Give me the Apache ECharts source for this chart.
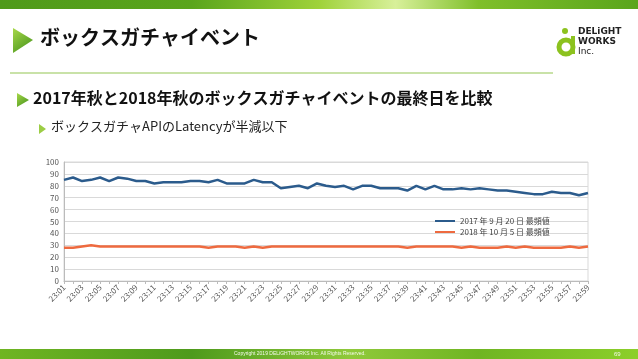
<!DOCTYPE html>
<html><head><meta charset="utf-8">
<script src="https://cdn.jsdelivr.net/npm/echarts@6/dist/echarts.min.js"></script>
<style>html,body{margin:0;padding:0;background:#fff}#c{width:638px;height:359px}</style>
</head><body><div id="c"></div>
<script>
const categories = ["23:01","23:02","23:03","23:04","23:05","23:06","23:07","23:08","23:09","23:10",
"23:11","23:12","23:13","23:14","23:15","23:16","23:17","23:18","23:19","23:20",
"23:21","23:22","23:23","23:24","23:25","23:26","23:27","23:28","23:29","23:30",
"23:31","23:32","23:33","23:34","23:35","23:36","23:37","23:38","23:39","23:40",
"23:41","23:42","23:43","23:44","23:45","23:46","23:47","23:48","23:49","23:50",
"23:51","23:52","23:53","23:54","23:55","23:56","23:57","23:58","23:59"];
const series2017Name = "2017 年 9 月 20 日 最頻値";
const series2018Name = "2018 年 10 月 5 日 最頻値";
const values2017 = [85,87,84,85,87,84,87,86,84,84,82,83,83,83,84,84,83,85,82,82,
82,85,83,83,78,79,80,78,82,80,79,80,77,80,80,78,78,78,76,80,
77,80,77,77,78,77,78,77,76,76,75,74,73,73,75,74,74,72,74];
const values2018 = [28,28,29,30,29,29,29,29,29,29,29,29,29,29,29,29,28,29,29,29,
28,29,28,29,29,29,29,29,29,29,29,29,29,29,29,29,29,29,28,29,
29,29,29,29,28,29,28,28,28,29,28,29,28,28,28,28,29,28,29];
const yTicks = {min:0, max:100, interval:10};

const chart = echarts.init(document.getElementById('c'));
const jp = '"Noto Sans CJK JP", "Noto Sans", sans-serif';
const bannerGrad = new echarts.graphic.LinearGradient(0,0,1,0,[
  {offset:0,color:'#4f9a1a'},{offset:0.3,color:'#5aa51c'},{offset:0.5,color:'#9fd23a'},
  {offset:0.62,color:'#d8f09a'},{offset:0.75,color:'#7fbf2a'},{offset:1,color:'#5aa51c'}]);
const footGrad = new echarts.graphic.LinearGradient(0,0,1,0,[
  {offset:0,color:'#6fb522'},{offset:0.3,color:'#4e9a1c'},{offset:0.55,color:'#8fc93a'},
  {offset:0.75,color:'#6fb522'},{offset:1,color:'#8ccf2a'}]);
const triGrad = new echarts.graphic.LinearGradient(0,0,1,1,[
  {offset:0,color:'#a8d84a'},{offset:1,color:'#3f8f18'}]);

chart.setOption({
  animation:false,
  textStyle:{fontFamily:jp},
  graphic:[
    {type:'rect',shape:{x:0,y:0,width:638,height:9},style:{fill:bannerGrad},silent:true},
    {type:'rect',shape:{x:0,y:349,width:638,height:10},style:{fill:footGrad},silent:true},
    {type:'polygon',shape:{points:[[13,28],[33,40],[13,53]]},style:{fill:triGrad}},
    {type:'text',left:40,top:27,style:{text:'ボックスガチャイベント',font:'bold 20px "Noto Sans CJK JP"',fill:'#111'}},
    {type:'rect',shape:{x:10,y:72,width:543,height:2},style:{fill:'#c9e2a8'}},
    {type:'polygon',shape:{points:[[17,93],[29,100],[17,107]]},style:{fill:triGrad}},
    {type:'text',left:33,top:90,style:{text:'2017年秋と2018年秋のボックスガチャイベントの最終日を比較',font:'bold 16px "Noto Sans CJK JP"',fill:'#111'}},
    {type:'polygon',shape:{points:[[39,124],[46,129],[39,134]]},style:{fill:'#9ccd45'}},
    {type:'text',left:51,top:120,style:{text:'ボックスガチャAPIのLatencyが半減以下',font:'13px "Noto Sans CJK JP"',fill:'#222'}},
    // logo
    {type:'circle',shape:{cx:566,cy:47,r:7},style:{fill:'none',stroke:'#8cc21f',lineWidth:5}},
    {type:'circle',shape:{cx:565,cy:31,r:3},style:{fill:'#8cc21f'}},
    {type:'rect',shape:{x:571,y:36,width:4,height:18},style:{fill:'#8cc21f'}},
    {type:'text',left:578,top:27,style:{text:'DELiGHT',font:'bold 9px "DejaVu Sans"',fill:'#222'}},
    {type:'text',left:578,top:37,style:{text:'WORKS',font:'bold 9px "DejaVu Sans"',fill:'#222'}},
    {type:'text',left:578,top:47,style:{text:'Inc.',font:'9px "DejaVu Sans"',fill:'#222'}},
    {type:'text',left:234,top:351,style:{text:'Copyright 2019 DELiGHTWORKS Inc. All Rights Reserved.',font:'5px "Liberation Sans"',fill:'#f4f9ea'}},
    {type:'text',left:614,top:351,style:{text:'69',font:'6px "Liberation Sans"',fill:'#f4f9ea'}}
  ],
  legend:{
    orient:'vertical',left:430,top:212,itemGap:3,itemWidth:20,itemHeight:2,
    icon:'rect',
    textStyle:{fontSize:8,color:'#444'},
    data:[series2017Name,series2018Name]
  },
  grid:{left:64,right:50,top:162,bottom:78,show:true,borderColor:'#d9d9d9',borderWidth:1},
  xAxis:{
    type:'category',data:categories,boundaryGap:false,
    axisLine:{lineStyle:{color:'#bbb'}},
    axisTick:{show:true,interval:0,length:3,lineStyle:{color:'#bbb'}},
    axisLabel:{interval:1,rotate:45,fontSize:8,color:'#555',margin:5},
    splitLine:{show:false}
  },
  yAxis:{
    type:'value',min:yTicks.min,max:yTicks.max,interval:yTicks.interval,
    axisLine:{show:true,lineStyle:{color:'#bbb'}},
    axisTick:{show:false},
    axisLabel:{fontSize:8,color:'#555',margin:5},
    splitLine:{lineStyle:{color:'#d9d9d9'}}
  },
  series:[
    {name:series2017Name,type:'line',data:values2017,symbol:'none',lineStyle:{width:2.5,color:'#2b5b8c'},itemStyle:{color:'#2b5b8c'}},
    {name:series2018Name,type:'line',data:values2018,symbol:'none',lineStyle:{width:2.5,color:'#ee6a3f'},itemStyle:{color:'#ee6a3f'}}
  ]
});
</script></body></html>
